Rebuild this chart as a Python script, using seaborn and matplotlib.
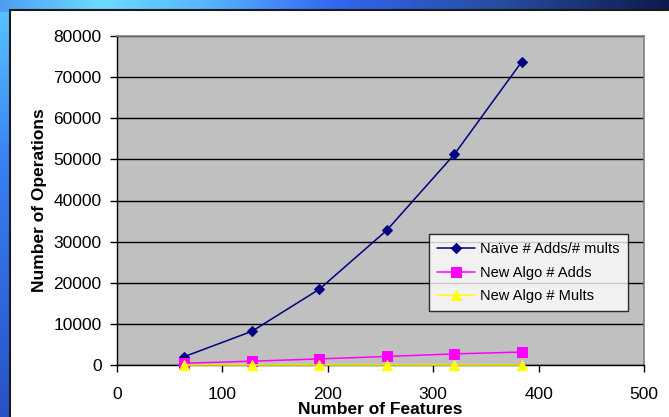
import numpy as np
import pandas as pd
import matplotlib
matplotlib.use("Agg")
import matplotlib.pyplot as plt
import matplotlib.patches as mpatches
import seaborn as sns

# ---- data ----
features = [64, 128, 192, 256, 320, 384]
naive_ops = [2048, 8192, 18432, 32768, 51200, 73728]
new_adds = [420, 930, 1480, 2080, 2700, 3150]
new_mults = [100, 100, 100, 100, 100, 100]
series_names = ["Naïve # Adds/# mults", "New Algo # Adds", "New Algo # Mults"]
x_ticks = [0, 100, 200, 300, 400, 500]
y_ticks = [0, 10000, 20000, 30000, 40000, 50000, 60000, 70000, 80000]

df = pd.DataFrame({
    "features": features * 3,
    "ops": naive_ops + new_adds + new_mults,
    "series": [series_names[0]] * 6 + [series_names[1]] * 6 + [series_names[2]] * 6,
})

sns.set_theme(style="white")
plt.rcParams["font.family"] = ["Liberation Sans", "DejaVu Sans"]

W, H = 669, 417
fig = plt.figure(figsize=(W / 100, H / 100), dpi=100)

# background gradient
bg = fig.add_axes([0, 0, 1, 1])
bg.set_axis_off()
bg.set_zorder(-5)
xs = np.linspace(0, 1, W)
ys = np.linspace(0, 1, H)
top_stops = [0.0, 0.15, 0.3, 0.5, 0.75, 1.0]
top_cols = np.array([[0.30, 0.62, 0.95], [0.42, 0.86, 1.0], [0.35, 0.72, 1.0],
                     [0.20, 0.40, 0.95], [0.15, 0.30, 0.62], [0.05, 0.10, 0.30]])
left_stops = [0.0, 0.4, 1.0]
left_cols = np.array([[0.35, 0.78, 1.0], [0.22, 0.50, 0.95], [0.16, 0.32, 0.78]])
img = np.zeros((H, W, 3))
for c in range(3):
    img[:, :, c] = np.interp(xs, top_stops, top_cols[:, c])[None, :]
for c in range(3):
    img[12:, :10, c] = np.interp(ys[12:], left_stops, left_cols[:, c])[:, None]
bg.imshow(img, aspect="auto", extent=[0, 1, 0, 1], transform=bg.transAxes, zorder=0)
bg.set_xlim(0, 1)
bg.set_ylim(0, 1)

panel = mpatches.Rectangle((10 / W, -0.02), 1.0, (H - 10) / H + 0.02,
                           transform=bg.transAxes, facecolor="white",
                           edgecolor="#1a1a1a", linewidth=1.5, zorder=2)
bg.add_patch(panel)

ax = fig.add_axes([117 / W, 52 / H, 527 / W, 329 / H])
ax.set_zorder(1)
ax.set_facecolor("#c0c0c0")

palette = {series_names[0]: "#000080", series_names[1]: "#ff00ff", series_names[2]: "#ffff00"}
markers = {series_names[0]: "D", series_names[1]: "s", series_names[2]: "^"}
sizes = {series_names[0]: 5, series_names[1]: 7, series_names[2]: 7}
for name in series_names:
    sub = df[df["series"] == name]
    sns.lineplot(data=sub, x="features", y="ops", ax=ax, color=palette[name],
                 marker=markers[name], markersize=sizes[name], markeredgecolor=palette[name],
                 linewidth=1.1, label=name, zorder=3, clip_on=False)

ax.set_xlim(0, 500)
ax.set_ylim(0, 80000)
ax.set_xticks(x_ticks)
ax.set_yticks(y_ticks)
ax.yaxis.grid(True, color="black", linewidth=1.0)
ax.xaxis.grid(False)
ax.set_axisbelow(True)
for side in ["top", "right"]:
    ax.spines[side].set_color("#808080")
    ax.spines[side].set_linewidth(1.2)
for side in ["left", "bottom"]:
    ax.spines[side].set_color("black")
    ax.spines[side].set_linewidth(1.0)
ax.tick_params(axis="both", which="major", direction="out", length=5, width=1,
               color="black", labelsize=12.5, labelcolor="black", left=True, bottom=True)
ax.tick_params(axis="y", pad=6)
ax.tick_params(axis="x", pad=11)

ax.set_xlabel("Number of Features", fontsize=12.5, fontweight="bold", color="black", labelpad=0)
ax.set_ylabel("Number of Operations", fontsize=12.5, fontweight="bold", color="black", labelpad=5)

leg = ax.legend(loc="upper left", bbox_to_anchor=((429 - 117) / 527, (365 - 234) / 329),
                borderaxespad=0, frameon=True, fancybox=False, fontsize=10.5,
                handlelength=2.6, handletextpad=0.35, labelspacing=0.66, borderpad=0.55)
leg.get_frame().set_edgecolor("black")
leg.get_frame().set_facecolor("white")
leg.get_frame().set_linewidth(1.0)
for t in leg.get_texts():
    t.set_color("black")

fig.savefig("out.png", dpi=100)
